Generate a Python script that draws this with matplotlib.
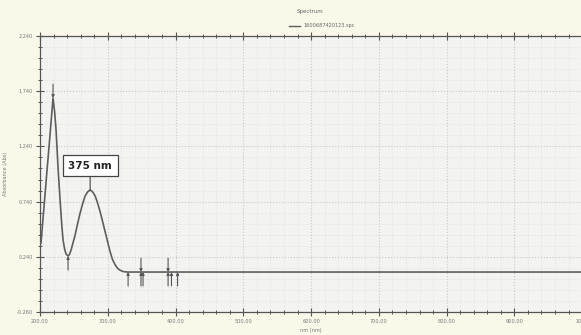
import matplotlib
matplotlib.use("Agg")
import matplotlib.pyplot as plt
from matplotlib.ticker import MultipleLocator, FixedLocator

# ---- data ----
wavelength = [201.5, 206.0, 210.4, 215.0, 219.2, 221.5, 223.7, 226.5, 229.6, 232.0,
              234.0, 236.5, 238.5, 241.4, 243.5, 245.9, 248.5, 251.8, 255.5, 259.2,
              263.0, 266.6, 270.5, 274.0, 277.5, 281.4, 285.0, 288.8, 292.5, 296.2,
              300.0, 303.6, 307.0, 311.0, 314.5, 318.3, 323.0, 328.7,
              400.0, 500.0, 600.0, 700.0, 800.0, 900.0, 1000.0]
absorbance = [0.365, 0.700, 1.026, 1.360, 1.678, 1.560, 1.389, 1.060, 0.755, 0.540,
              0.392, 0.305, 0.265, 0.247, 0.262, 0.302, 0.362, 0.437, 0.540, 0.637,
              0.722, 0.791, 0.830, 0.845, 0.830, 0.791, 0.727, 0.646, 0.556, 0.465,
              0.370, 0.283, 0.215, 0.166, 0.135, 0.118, 0.106, 0.102,
              0.102, 0.102, 0.102, 0.102, 0.102, 0.102, 0.102]

x_ticks = [200, 300, 400, 500, 600, 700, 800, 900, 1000]
x_tick_labels = ["200.00", "300.00", "400.00", "500.00", "600.00", "700.00", "800.00", "900.00", "1000"]
y_ticks = [-0.26, 0.24, 0.74, 1.24, 1.74, 2.24]
y_tick_labels = ["-0.260", "0.240", "0.740", "1.240", "1.740", "2.240"]

# peak-pick markers: (wavelength, absorbance, direction)  +1 above, -1 below
pick_wl = [219.2, 241.4, 330.0, 349.0, 349.0, 352.0, 389.0, 389.0, 394.0, 403.0]
pick_abs = [1.678, 0.247, 0.102, 0.102, 0.102, 0.102, 0.102, 0.102, 0.102, 0.102]
pick_dir = [1, -1, -1, 1, -1, -1, 1, -1, -1, -1]

callout_wl = 274.0
callout_abs = 0.845
callout_text = "375 nm"

title = "Spectrum"
legend_label = "1600687420123.spc"
x_label = "nm (nm)"
y_label = "Absorbance (Abs)"

# ---- figure ----
W, H = 581, 335
fig = plt.figure(figsize=(W / 100, H / 100), dpi=100)
fig.patch.set_facecolor("#faf8e9")
ax = fig.add_axes([40 / W, 1 - 312 / H, 1 - 40 / W + 0.002, (312 - 36) / H])
ax.set_facecolor("#f3f3f1")

line_color = "#5e5e5e"
ax.plot(wavelength, absorbance, color=line_color, lw=1.2, zorder=3,
        solid_joinstyle="round")

ax.set_xlim(200, 1000)
ax.set_ylim(-0.26, 2.24)
ax.xaxis.set_major_locator(FixedLocator(x_ticks))
ax.set_xticklabels(x_tick_labels)
ax.xaxis.set_minor_locator(MultipleLocator(20))
ax.yaxis.set_major_locator(FixedLocator(y_ticks))
ax.set_yticklabels(y_tick_labels)
ax.yaxis.set_minor_locator(FixedLocator([y_ticks[0] + 0.1 * i for i in range(26)]))

ax.tick_params(which="major", direction="inout", length=6, width=0.8, color="#555555",
               labelsize=3.6, labelcolor="#777777", top=True, pad=2)
ax.tick_params(which="minor", direction="inout", length=3.5, width=0.7, color="#555555", top=True)

ax.grid(which="major", color="#c8c8c8", linestyle=":", linewidth=0.8)
ax.grid(which="minor", color="#dedede", linestyle=":", linewidth=0.6)
ax.set_axisbelow(True)

for s in ["left", "bottom", "top"]:
    ax.spines[s].set_color("#555555")
    ax.spines[s].set_linewidth(0.9)
ax.spines["right"].set_visible(False)

ax.set_xlabel(x_label, fontsize=3.6, color="#777777", labelpad=3)
ax.set_ylabel(y_label, fontsize=3.6, color="#777777", labelpad=6)

# peak pick markers
for wl, a, d in zip(pick_wl, pick_abs, pick_dir):
    ax.annotate("", xy=(wl, a), xytext=(0, 10 * d), textcoords="offset points",
                arrowprops=dict(arrowstyle="-|>", color="#555555", lw=0.8,
                                mutation_scale=4, shrinkA=0, shrinkB=0), zorder=4)
    ax.annotate("·", xy=(wl, a), xytext=(0, 12 * d), textcoords="offset points",
                ha="center", va="center", fontsize=3, color="#777777")

# callout
ax.annotate(callout_text, xy=(callout_wl, callout_abs), xytext=(0, 14),
            textcoords="offset points", ha="center", va="bottom",
            fontsize=7.5, fontweight="bold", color="#222222",
            bbox=dict(boxstyle="square,pad=0.55", fc="white", ec="#444444", lw=0.9),
            arrowprops=dict(arrowstyle="-", color="#444444", lw=0.8, shrinkA=0, shrinkB=0),
            zorder=5)

# title and legend
fig.text(310 / W, 1 - 12 / H, title, ha="center", va="center", fontsize=4, color="#666666")
fig.lines.append(plt.Line2D([289 / W, 300 / W], [1 - 26 / H, 1 - 26 / H],
                            transform=fig.transFigure, color=line_color, lw=1.0))
fig.text(304 / W, 1 - 26 / H, legend_label, ha="left", va="center", fontsize=3.6, color="#666666")

fig.savefig("out.png", dpi=100, facecolor=fig.get_facecolor())
